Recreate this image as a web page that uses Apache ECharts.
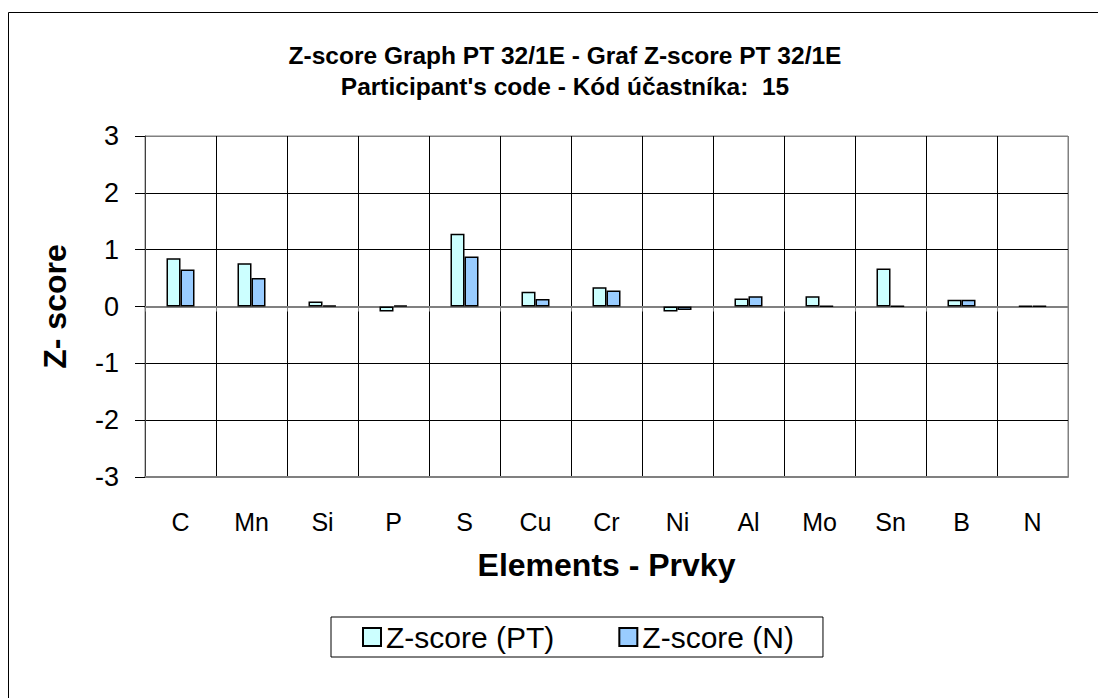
<!DOCTYPE html>
<html><head><meta charset="utf-8">
<script src="https://cdn.jsdelivr.net/npm/echarts@6/dist/echarts.min.js"></script>
<style>html,body{margin:0;padding:0;background:#fff}#c{width:1098px;height:698px}</style>
</head><body><div id="c"></div>
<script>
const categories = ['C','Mn','Si','P','S','Cu','Cr','Ni','Al','Mo','Sn','B','N'];
const zPT = [0.85, 0.76, 0.09, -0.09, 1.28, 0.26, 0.34, -0.09, 0.14, 0.18, 0.67, 0.12, 0.01];
const zN  = [0.65, 0.50, 0.02, 0.02, 0.88, 0.13, 0.28, -0.06, 0.18, 0.01, 0.01, 0.12, 0.01];
const yTicks = [-3, -2, -1, 0, 1, 2, 3];
const titleLines = ["Z-score Graph PT 32/1E - Graf Z-score PT 32/1E", "Participant's code - Kód účastníka:  15"];
const seriesNames = ['Z-score (PT)', 'Z-score (N)'];
const xAxisTitle = 'Elements - Prvky';
const yAxisTitle = 'Z- score';

const FONT = "'Liberation Sans', Arial, sans-serif";
const chart = echarts.init(document.getElementById('c'), null, {renderer: 'svg'});

const vColors = categories.map(() => '#000').concat(['#808080']);
const hColors = yTicks.map((v, i) => (i === yTicks.length - 1) ? '#808080' : '#000');

chart.setOption({
  backgroundColor: '#fff',
  animation: false,
  title: {
    text: titleLines.join('\n'),
    left: 560, top: 35, textAlign: 'center',
    textStyle: {fontFamily: FONT, fontWeight: 'bold', fontSize: 24.5, lineHeight: 31, color: '#000'}
  },
  graphic: [{
    type: 'rect', silent: true, z: -1,
    shape: {x: 8.5, y: 12.5, width: 1200, height: 800},
    style: {fill: 'none', stroke: '#000', lineWidth: 1}
  }],
  legend: {
    left: 331, top: 617,
    padding: [5, 29, 5, 31],
    borderColor: '#000', borderWidth: 1,
    itemWidth: 18, itemHeight: 18, itemGap: 64,
    icon: 'rect',
    textStyle: {fontFamily: FONT, fontSize: 30, color: '#000'},
    data: seriesNames
  },
  grid: {left: 145, right: 30, top: 136, bottom: 221, show: true, borderColor: '#808080', borderWidth: 1, backgroundColor: '#fff'},
  xAxis: [{
    type: 'category', data: categories, boundaryGap: true,
    axisLine: {onZero: false, lineStyle: {color: '#808080', width: 2}},
    axisTick: {show: false},
    axisLabel: {interval: 0, margin: 32, fontFamily: FONT, fontSize: 25, color: '#000'},
    splitLine: {show: true, interval: 0, lineStyle: {color: vColors, width: 1}},
    name: xAxisTitle, nameLocation: 'middle', nameGap: 72,
    nameTextStyle: {fontFamily: FONT, fontWeight: 'bold', fontSize: 32, color: '#000'}
  }, {
    type: 'category', data: categories, boundaryGap: true, position: 'bottom',
    offset: -170.5,
    axisLine: {onZero: false, lineStyle: {color: '#808080', width: 2}},
    axisTick: {show: true, interval: 0, length: 5, lineStyle: {color: '#808080'}},
    axisLabel: {show: false},
    splitLine: {show: false}
  }],
  yAxis: {
    type: 'value', min: yTicks[0], max: yTicks[yTicks.length - 1], interval: 1,
    axisLine: {show: true, lineStyle: {color: '#404040', width: 1}},
    axisTick: {show: true, length: 10, lineStyle: {color: '#000'}},
    axisLabel: {margin: 26, fontFamily: FONT, fontSize: 27, color: '#000'},
    splitLine: {show: true, lineStyle: {color: hColors, width: 1}},
    name: yAxisTitle, nameLocation: 'middle', nameRotate: 90, nameGap: 74,
    nameTextStyle: {fontFamily: FONT, fontWeight: 'bold', fontSize: 32, color: '#000'}
  },
  series: [{
    name: seriesNames[0], type: 'bar', data: zPT, barWidth: 14, barGap: '0%',
    itemStyle: {color: '#CCFFFF', borderColor: '#000', borderWidth: 1.5}
  }, {
    name: seriesNames[1], type: 'bar', data: zN, barWidth: 14, barGap: '0%',
    itemStyle: {color: '#99CCFF', borderColor: '#000', borderWidth: 1.5}
  }]
});
</script></body></html>
